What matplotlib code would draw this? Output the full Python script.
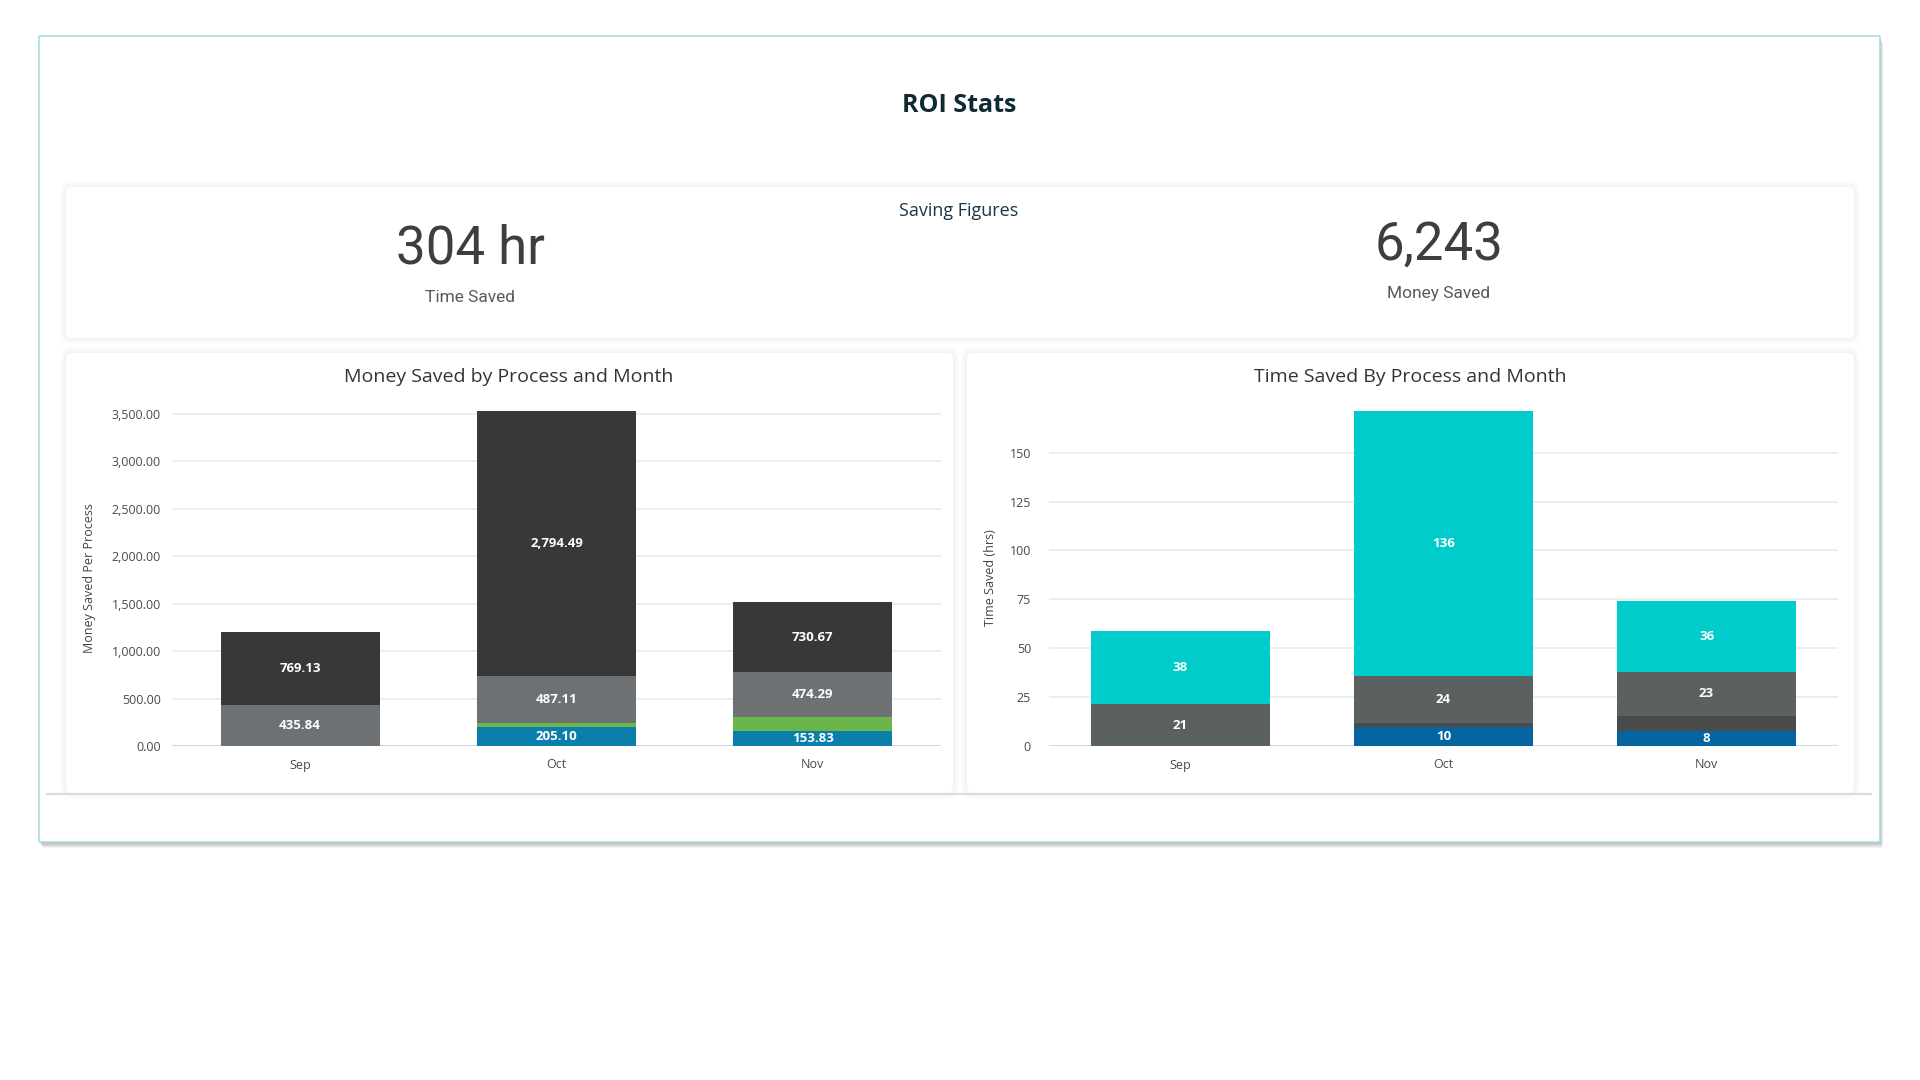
import numpy as np
import matplotlib
matplotlib.use("Agg")
import matplotlib.pyplot as plt
from matplotlib.patches import FancyBboxPatch
from matplotlib.transforms import IdentityTransform
from matplotlib.lines import Line2D

plt.rcParams['font.family'] = ['Open Sans', 'DejaVu Sans']

# ---- data ----
months = ['Sep', 'Oct', 'Nov']

# money saved per process (stacked bottom -> top)
money_blue = [0.0, 205.10, 153.83]
money_green = [0.0, 40.20, 152.30]
money_gray = [435.84, 487.11, 474.29]
money_dark = [769.13, 2794.49, 730.67]

# time saved per process, hours (stacked bottom -> top)
time_blue = [0.0, 9.8, 7.6]
time_dark = [0.0, 2.0, 7.6]
time_gray = [21.3, 23.8, 22.8]
time_cyan = [37.6, 135.7, 36.2]

money_ticks = [0, 500, 1000, 1500, 2000, 2500, 3000, 3500]
time_ticks = [0, 25, 50, 75, 100, 125, 150]

total_hours = "304 hr"
total_money = "6,243"

W, H = 1920, 1080
fig = plt.figure(figsize=(19.2, 10.8), dpi=100)
fig.patch.set_facecolor('white')


def box(x0, y0, x1, y1, fc='white', ec='none', lw=0, r=6, z=0, alpha=1.0):
    """rounded box in pixel coords, y measured from the top"""
    p = FancyBboxPatch((x0, H - y1), x1 - x0, y1 - y0,
                       boxstyle=f"round,pad=0,rounding_size={r}",
                       fc=fc, ec=ec, lw=lw, alpha=alpha, zorder=z,
                       transform=IdentityTransform())
    fig.add_artist(p)


def txt(x, y, s, **kw):
    fig.text(x / W, 1 - y / H, s, ha='center', va='center', **kw)


# outer card with shadow
for k in range(6, 0, -1):
    box(39 + k * 0.5, 36 + k, 1880 + k * 0.5, 842 + k, fc='#000000', r=2, alpha=0.05, z=0)
box(39, 36, 1880, 842, fc='white', ec='#a9dfe2', lw=1.2, r=1, z=1)

# inner cards with soft shadow
cards = [(66, 187, 1854, 338), (66, 353, 953, 793), (967, 353, 1854, 793)]
for c in cards:
    for k in range(6, 0, -1):
        box(c[0] - k, c[1] - k, c[2] + k, c[3] + k, fc='#000000', r=6 + k, alpha=0.008, z=2)
    box(*c, fc='white', r=6, z=3)

fig.add_artist(Line2D([47 / W, 1871 / W], [1 - 794 / H] * 2, color='#d9dddd', lw=1.5, zorder=4))

# header texts
txt(959, 106, 'ROI Stats', fontsize=18, fontweight='bold', color='#0f2a33', zorder=5)
txt(959, 211, 'Saving Figures', fontsize=13, color='#17384a', zorder=5)
txt(470, 249, total_hours, fontsize=38, family=['Roboto', 'DejaVu Sans'], color='#3b3f40', zorder=5)
txt(470, 298, 'Time Saved', fontsize=12.5, family=['Roboto', 'DejaVu Sans'], color='#555a5c', zorder=5)
txt(1439, 245, total_money, fontsize=38, family=['Roboto', 'DejaVu Sans'], color='#3b3f40', zorder=5)
txt(1439, 294, 'Money Saved', fontsize=12.5, family=['Roboto', 'DejaVu Sans'], color='#555a5c', zorder=5)

txt(509, 377, 'Money Saved by Process and Month', fontsize=14, color='#333333', zorder=5)
txt(1410, 377, 'Time Saved By Process and Month', fontsize=14, color='#333333', zorder=5)


def make_axes(x0, x1, y0, y1):
    ax = fig.add_axes([x0 / W, 1 - y1 / H, (x1 - x0) / W, (y1 - y0) / H])
    ax.set_facecolor('none')
    ax.set_zorder(6)
    for s in ax.spines.values():
        s.set_visible(False)
    ax.tick_params(length=0, labelsize=9, labelcolor='#4a4a4a')
    ax.grid(axis='y', color='#e8eaeb', lw=1.2, zorder=0)
    ax.set_axisbelow(True)
    return ax


def stacked(ax, series, colors, labelled, fmt, width):
    x = np.arange(len(months))
    bottom = np.zeros(len(months))
    for vals, col, lab in zip(series, colors, labelled):
        vals = np.array(vals)
        ax.bar(x, vals, width, bottom=bottom, color=col, zorder=3)
        if lab:
            for xi, b, v in zip(x, bottom, vals):
                if v > 0:
                    ax.text(xi, b + v / 2, fmt(v), ha='center', va='center',
                            color='white', fontsize=9.5, fontweight='bold', zorder=4)
        bottom += vals
    ax.set_xticks(x)
    ax.set_xticklabels(months)
    ax.set_xlim(-0.5, len(months) - 0.5)
    ax.set_ylim(0, bottom.max())
    ax.axhline(0, color='#cddde6', lw=1.5, zorder=2)
    ax.tick_params(axis='x', pad=9)


# left chart: money
ax1 = make_axes(172, 941, 411, 746)
stacked(ax1, [money_blue, money_green, money_gray, money_dark],
        ['#0b7fab', '#6ab64a', '#6e7173', '#383838'],
        [True, False, True, True], lambda v: f"{v:,.2f}", 0.62)
ax1.set_yticks(money_ticks)
ax1.set_yticklabels([f"{t:,.2f}" for t in money_ticks])
ax1.tick_params(axis='y', pad=8)
txt(89, 578, 'Money Saved Per Process', fontsize=9, rotation=90, color='#444444', zorder=7)

# right chart: time
ax2 = make_axes(1049, 1838, 411, 746)
stacked(ax2, [time_blue, time_dark, time_gray, time_cyan],
        ['#0465a0', '#4b4b4b', '#5b6161', '#02cccb'],
        [True, False, True, True], lambda v: f"{v:.0f}", 0.68)
ax2.set_yticks(time_ticks)
ax2.tick_params(axis='y', pad=13)
txt(991, 578, 'Time Saved (hrs)', fontsize=9, rotation=90, color='#444444', zorder=7)

fig.savefig('out.png', dpi=100, facecolor='white')
